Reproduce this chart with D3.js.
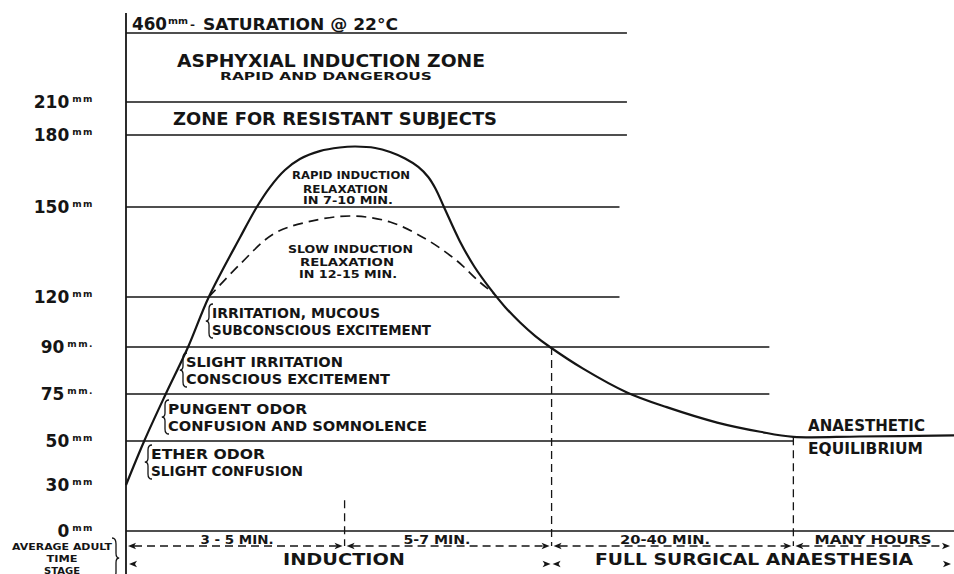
<!DOCTYPE html>
<html><head><meta charset="utf-8">
<script src="https://cdn.jsdelivr.net/npm/d3@7"></script>
<style>
body{margin:0;background:#fff;}
svg{display:block;}
text{font-family:"DejaVu Sans",sans-serif;font-weight:bold;fill:#151515;}
</style></head><body>
<svg id="c" width="954" height="574"></svg>
<script>
// ---------- DATA ----------
const yTickValues = [0, 30, 50, 75, 90, 120, 150, 180, 210];
const yTickNumbers = ["0", "30", "50", "75", "90", "120", "150", "180", "210"];
const yTickUnits = ["mm", "mm", "mm", "mm.", "mm.", "mm", "mm", "mm", "mm"];
const zoneLevels = [460, 210, 180, 150, 120, 90, 75, 50, 0];
const zoneLineEnds = [60.5, 60.5, 60.5, 59.6, 59.6, 77.7, 77.7, 80.6, 100];
// rapid induction curve (time units 0-100, ether tension mm)
const rapidTime = [0, 2.2, 4.8, 7.5, 10.0, 13.8, 15.8, 17.4, 19.2, 21.0, 23.4, 25.8, 27.7, 30.1, 31.9, 33.7, 35.3, 36.5, 37.4, 38.4, 40.3, 42.1, 44.0, 45.8, 47.6, 49.4, 51.2, 55.2, 60.5, 65.3, 71.4, 76.6, 80.6, 88.6, 100];
const rapidTension = [30, 50, 75, 90, 120, 140, 150, 158.3, 165.4, 170, 173.3, 174.8, 175.2, 174.6, 172.9, 170.2, 166.7, 162.5, 157.5, 150, 138.7, 130, 122.7, 113.9, 104.7, 96.7, 90, 83.1, 75.5, 68, 59.8, 54.9, 52.2, 52.4, 53];
// slow induction curve
const slowTime = [10.0, 13.8, 17.8, 21.9, 27.1, 31.9, 36.4, 40.0, 42.5, 44.5];
const slowTension = [120, 131, 141, 145, 147, 145, 139, 132, 125.5, 121];
// time stages
const boundaryTimes = [0, 26.4, 51.4, 80.6, 100];
const boundaryTops = [null, 20, 90, 52, null];
const durationLabels = ["3 - 5  MIN.", "5-7 MIN.", "20-40 MIN.", "MANY  HOURS"];
const stageLabels = ["INDUCTION", "FULL  SURGICAL  ANAESTHESIA"];
const stageStarts = [0, 51.4];
const stageEnds = [51.4, 100];
const zoneTitles = ["ASPHYXIAL  INDUCTION  ZONE", "RAPID  AND  DANGEROUS", "ZONE  FOR  RESISTANT  SUBJECTS"];
const rapidNote = ["RAPID  INDUCTION", "RELAXATION", "IN  7-10  MIN."];
const slowNote = ["SLOW  INDUCTION", "RELAXATION", "IN 12-15  MIN."];
const symptomNotes = [
  ["IRRITATION, MUCOUS", "SUBCONSCIOUS EXCITEMENT"],
  ["SLIGHT  IRRITATION", "CONSCIOUS  EXCITEMENT"],
  ["PUNGENT  ODOR", "CONFUSION  AND  SOMNOLENCE"],
  ["ETHER  ODOR", "SLIGHT  CONFUSION"]
];
const equilibriumNote = ["ANAESTHETIC", "EQUILIBRIUM"];
const saturationLabel = ["460", "mm", "-", "SATURATION @ 22°C"];
const rowLabels = ["AVERAGE ADULT", "TIME", "STAGE"];

// ---------- SCALES ----------
const svg = d3.select("#c");
const x = d3.scaleLinear().domain([0, 100]).range([126, 954]);
const y = d3.scaleLinear()
  .domain([0, 30, 50, 75, 90, 120, 150, 180, 210, 460])
  .range([531, 485, 441, 394, 347, 297, 207, 135, 102, 33]);
const ink = "#151515";

function label(tx, ty, str, size, width, anchor) {
  const t = svg.append("text").attr("x", tx).attr("y", ty)
    .attr("font-size", size).attr("text-anchor", anchor || "start").text(str);
  if (width) t.attr("textLength", width).attr("lengthAdjust", "spacingAndGlyphs");
  return t;
}
function brace(bx, y0, y1, dir) { // dir=1 "{" , dir=-1 "}"
  const w = 4 * dir, ym = (y0 + y1) / 2, h = y1 - y0;
  const p = `M${bx + w},${y0} Q${bx},${y0} ${bx},${y0 + h * 0.15} L${bx},${ym - h * 0.12} Q${bx},${ym} ${bx - w * 0.8},${ym} Q${bx},${ym} ${bx},${ym + h * 0.12} L${bx},${y1 - h * 0.15} Q${bx},${y1} ${bx + w},${y1}`;
  svg.append("path").attr("d", p).attr("fill", "none").attr("stroke", ink).attr("stroke-width", 1.3);
}
function arrowHead(ax, ay, dir) {
  svg.append("path").attr("d", `M${ax},${ay} L${ax - dir * 8},${ay - 3.2} L${ax - dir * 6},${ay} L${ax - dir * 8},${ay + 3.2} Z`)
    .attr("fill", ink);
}

// ---------- ZONE LINES ----------
svg.append("g").selectAll("line").data(zoneLevels).join("line")
  .attr("x1", x(0)).attr("x2", (d, i) => x(zoneLineEnds[i]))
  .attr("y1", d => y(d)).attr("y2", d => y(d))
  .attr("stroke", ink).attr("stroke-width", 1.5);

// vertical axis line
svg.append("line").attr("x1", x(0)).attr("x2", x(0)).attr("y1", 13).attr("y2", 574)
  .attr("stroke", ink).attr("stroke-width", 1.8);

// ---------- Y AXIS LABELS ----------
const axis = d3.axisLeft(y).tickValues(yTickValues).tickSize(0).tickPadding(32).tickFormat(() => "");
const ag = svg.append("g").attr("transform", `translate(${x(0)},0)`).call(axis);
ag.select(".domain").remove();
ag.selectAll(".tick text").each(function (d) {
  const i = yTickValues.indexOf(d);
  const t = d3.select(this).attr("font-size", 17).attr("fill", ink)
    .attr("font-family", "DejaVu Sans").attr("font-weight", "bold").attr("dy", "0.32em");
  t.append("tspan").text(yTickNumbers[i]);
  t.append("tspan").attr("font-size", 9).attr("dx", 3).attr("dy", -6).attr("letter-spacing", 1.5).text(yTickUnits[i]);
});

// ---------- CURVES ----------
const line = d3.line().x(d => x(d[0])).y(d => y(d[1])).curve(d3.curveCatmullRom.alpha(0.5));
svg.append("path").datum(slowTime.map((t, i) => [t, slowTension[i]]))
  .attr("d", line).attr("fill", "none").attr("stroke", ink).attr("stroke-width", 1.7)
  .attr("stroke-dasharray", "10,6");
svg.append("path").datum(rapidTime.map((t, i) => [t, rapidTension[i]]))
  .attr("d", line).attr("fill", "none").attr("stroke", ink).attr("stroke-width", 2.2);

// ---------- TEXTS: TOP ----------
label(132, 30, saturationLabel[0], 17, 35);
label(168, 24, saturationLabel[1], 9.5, 20);
label(190, 28, saturationLabel[2], 10, 5);
label(203, 30, saturationLabel[3], 16, 195);
label(177, 67, zoneTitles[0], 17, 308);
label(220, 79.5, zoneTitles[1], 10, 212);
label(173, 125, zoneTitles[2], 18, 324);

// rapid / slow notes
const rapidX = [292, 303, 303], rapidW = [118, 85, 90], rapidY = [179, 192.5, 204];
rapidNote.forEach((s, i) => label(rapidX[i], rapidY[i], s, 10.5, rapidW[i]));
const slowX = [288, 300, 299], slowW = [125, 94, 98], slowY = [253, 266, 278];
slowNote.forEach((s, i) => label(slowX[i], slowY[i], s, 10.5, slowW[i]));

// symptom notes
const noteX = [212, 186, 168, 151];
const noteY = [318, 367, 414, 459];
const noteW = [[168, 219], [157, 204], [139, 259], [114, 152]];
symptomNotes.forEach((pair, i) => {
  label(noteX[i], noteY[i], pair[0], 13.5, noteW[i][0]);
  label(noteX[i], noteY[i] + 16.5, pair[1], 13.5, noteW[i][1]);
  brace(noteX[i] - 3, noteY[i] - 14, noteY[i] + 20, 1);
});

// equilibrium
label(808, 431, equilibriumNote[0], 15, 117);
label(808, 454, equilibriumNote[1], 15, 115);

// ---------- TIME ROW ----------
const rowY = 546, row2Y = 564;
boundaryTimes.forEach((t, i) => {
  if (boundaryTops[i] !== null) {
    svg.append("line").attr("x1", x(t)).attr("x2", x(t))
      .attr("y1", y(boundaryTops[i])).attr("y2", rowY)
      .attr("stroke", ink).attr("stroke-width", 1.3).attr("stroke-dasharray", "8,5");
  }
});
for (let i = 0; i < boundaryTimes.length - 1; i++) {
  const a = x(boundaryTimes[i]) + 2, b = x(boundaryTimes[i + 1]) - 2;
  svg.append("line").attr("x1", a + 6).attr("x2", b - 6).attr("y1", rowY).attr("y2", rowY)
    .attr("stroke", ink).attr("stroke-width", 1.4).attr("stroke-dasharray", "8,5");
  arrowHead(a, rowY, -1);
  arrowHead(i === boundaryTimes.length - 2 ? b - 2 : b, rowY, 1);
}
const durX = [237, 437, 665, 873], durW = [73, 67, 90, 117];
durationLabels.forEach((s, i) => label(durX[i], 543.5, s, 11.5, durW[i], "middle"));

// stage row arrows
arrowHead(x(0) + 3, row2Y, -1);
arrowHead(x(stageEnds[0]) - 1, row2Y, 1);
arrowHead(x(stageStarts[1]) + 1, row2Y, -1);
arrowHead(x(stageEnds[1]) - 3, row2Y, 1);
const stageX = [344, 754], stageW = [122, 318];
stageLabels.forEach((s, i) => label(stageX[i], 565, s, 16, stageW[i], "middle"));

// left row labels
label(62, 549.5, rowLabels[0], 9.5, 100, "middle");
label(62, 562, rowLabels[1], 9.5, 31, "middle");
label(62, 573.5, rowLabels[2], 9.5, 36, "middle");
brace(116, 538, 578, -1);
</script>
</body></html>
